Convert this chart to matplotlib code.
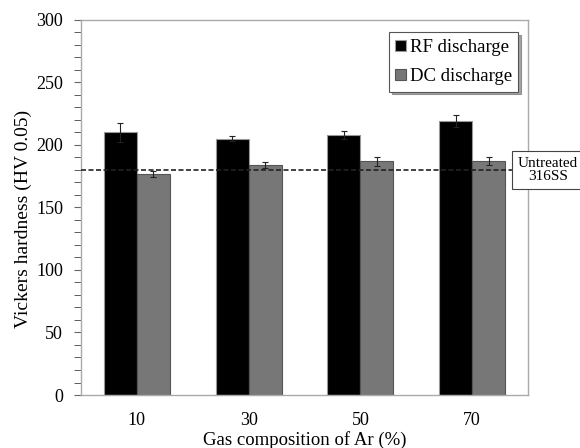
import matplotlib
matplotlib.use("Agg")
import matplotlib.pyplot as plt
import numpy as np
from matplotlib.ticker import MultipleLocator

# ---------------------------------------------------------------------------
# Data
# ---------------------------------------------------------------------------
ar_labels = ["10", "30", "50", "70"]
rf_hv = [210, 205, 208, 219]
rf_err = [7.5, 2, 3.5, 5]
dc_hv = [177, 184, 187, 187]
dc_err = [2.5, 2.5, 3.5, 3]
untreated_hv = 180

plt.rcParams["font.family"] = ["Liberation Serif", "DejaVu Serif"]

fig = plt.figure(figsize=(5.8, 4.48), dpi=100)
ax = fig.add_axes([0.1397, 0.1183, 0.7707, 0.8371])

x = np.arange(len(ar_labels))
w = 0.295
ekw = dict(ecolor="#222222", elinewidth=0.8, capsize=2, capthick=0.8)
ax.bar(x - w / 2, rf_hv, w, color="black", edgecolor="#999999", linewidth=0.8,
       yerr=rf_err, error_kw=ekw, label="RF discharge", zorder=2)
ax.bar(x + w / 2, dc_hv, w, color="#777777", edgecolor="#555555", linewidth=0.8,
       yerr=dc_err, error_kw=ekw, label="DC discharge", zorder=2)

# untreated reference line, runs under the label box
ax.plot([-0.5, 3.6], [untreated_hv, untreated_hv], ls=(0, (3, 1.5)), color="#222222",
        lw=1.2, zorder=3, clip_on=False)
ax.text(1.0447, untreated_hv, "Untreated\n316SS", transform=ax.get_yaxis_transform(),
        ha="center", va="center", multialignment="center", fontsize=11,
        linespacing=1.05, zorder=5,
        bbox=dict(boxstyle="square,pad=0.4", fc="white", ec="#444444", lw=0.8))

ax.set_xlim(-0.5, 3.5)
ax.set_ylim(0, 300)
ax.set_xticks(x)
ax.set_xticklabels(ar_labels)
ax.yaxis.set_major_locator(MultipleLocator(50))
ax.yaxis.set_minor_locator(MultipleLocator(10))
ax.tick_params(axis="y", which="major", length=5, color="#666666", labelsize=13, pad=8)
ax.tick_params(axis="y", which="minor", length=5, color="#444444")
ax.tick_params(axis="x", length=0, labelsize=13, pad=12)
for s in ax.spines.values():
    s.set_color("#aaaaaa")
    s.set_linewidth(1.0)

ax.set_xlabel("Gas composition of Ar (%)", fontsize=13.5, labelpad=2)
ax.set_ylabel("Vickers hardness (HV 0.05)", fontsize=14)
ax.yaxis.set_label_coords(-0.11, 0.47)

leg = ax.legend(loc="upper right", bbox_to_anchor=(0.978, 0.967), fontsize=13.5,
                frameon=True, fancybox=False, shadow=True, handlelength=0.55,
                handleheight=0.55, handletextpad=0.2, borderpad=0.35,
                labelspacing=0.65, borderaxespad=0)
leg.get_frame().set_edgecolor("#555555")
leg.get_frame().set_linewidth(0.8)

fig.savefig("out.png", dpi=100)
